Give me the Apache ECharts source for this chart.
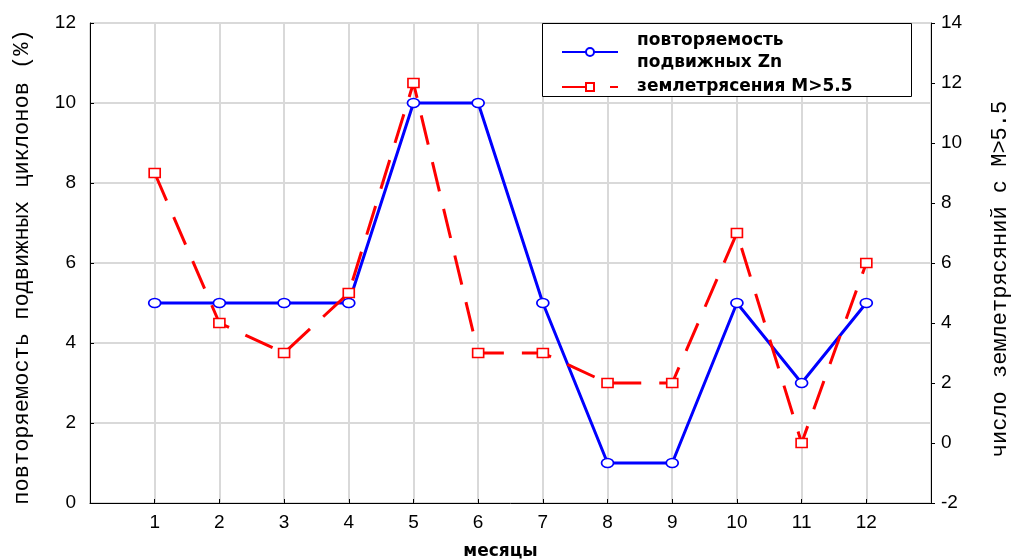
<!DOCTYPE html>
<html>
<head>
<meta charset="utf-8">
<script src="https://cdn.jsdelivr.net/npm/echarts@6/dist/echarts.min.js"></script>
<style>
  html, body { margin: 0; padding: 0; background: #fff; }
  #main-chart-1 { width: 1011px; height: 560px; }
</style>
</head>
<body>
<div id="main-chart-1"></div>
<script>
// Данные графика
const months = [1, 2, 3, 4, 5, 6, 7, 8, 9, 10, 11, 12];
const cyclones = [5, 5, 5, 5, 10, 10, 5, 1, 1, 5, 3, 5];      // левая ось, %
const quakes = [9, 4, 3, 5, 12, 3, 3, 2, 2, 7, 0, 6];         // правая ось, число
const nameCyclones = 'повторяемость\nподвижных Zn';
const nameQuakes = 'землетрясения M>5.5';

const monoFont = 'Liberation Mono';
const tickFont = 'Liberation Sans';

const chart = echarts.init(document.getElementById('main-chart-1'));

chart.setOption({
    backgroundColor: '#fff',
    animation: false,
    grid: {
        left: 90, right: 80, top: 23, bottom: 57,
        containLabel: false, outerBoundsMode: 'none',
        show: true, borderColor: '#000', borderWidth: 1
    },
    graphic: [{
        type: 'rect',
        left: 542, top: 23, z: 10,
        shape: { width: 369, height: 73 },
        style: { fill: '#fff', stroke: '#000', lineWidth: 1 }
    }],
    legend: {
        orient: 'vertical',
        left: 556, top: 25, z: 20,
        itemWidth: 56, itemHeight: 10, itemGap: 2,
        textStyle: {
            fontFamily: 'DejaVu Sans',
            fontWeight: 'bold', fontSize: 17, color: '#000',
            lineHeight: 22, padding: [0, 0, 0, 14]
        },
        data: [nameCyclones, nameQuakes]
    },
    xAxis: {
        type: 'value', min: 0, max: 13, interval: 1,
        name: 'месяцы', nameLocation: 'middle', nameGap: 40,
        nameTextStyle: { fontFamily: 'DejaVu Sans', fontWeight: 'bold', fontSize: 17, color: '#000', padding: [0, 20, 0, 0] },
        axisLine: { lineStyle: { color: '#000' } },
        axisTick: { inside: true, length: 4, lineStyle: { color: '#000' } },
        axisLabel: {
            fontFamily: tickFont, fontSize: 19, color: '#000', margin: 10,
            formatter: v => (v >= 1 && v <= 12) ? String(v) : ''
        },
        splitLine: { show: true, lineStyle: { color: '#d9d9d9', width: 2 } }
    },
    yAxis: [{
        type: 'value', min: 0, max: 12, interval: 2, position: 'left',
        name: 'повторяемость подвижных циклонов (%)', nameLocation: 'middle', nameGap: 57,
        nameTextStyle: { fontFamily: monoFont, fontSize: 22, color: '#000', padding: [0, 8, 0, 0] },
        axisLine: { show: true, lineStyle: { color: '#000' } },
        axisTick: { inside: true, length: 4, lineStyle: { color: '#000' } },
        axisLabel: { fontFamily: tickFont, fontSize: 19, color: '#000', margin: 14 },
        splitLine: { show: true, lineStyle: { color: '#d9d9d9', width: 2 } }
    }, {
        type: 'value', min: -2, max: 14, interval: 2, position: 'right',
        name: 'число землетрясяний с M>5.5', nameLocation: 'middle', nameGap: 58, nameRotate: 90,
        nameTextStyle: { fontFamily: monoFont, fontSize: 22, color: '#000', padding: [0, 32, 0, 0] },
        axisLine: { show: true, lineStyle: { color: '#000' } },
        axisTick: { show: true, length: 4, lineStyle: { color: '#000' } },
        axisLabel: { fontFamily: tickFont, fontSize: 19, color: '#000', margin: 10 },
        splitLine: { show: false }
    }],
    series: [{
        name: nameCyclones,
        type: 'line',
        yAxisIndex: 0,
        data: months.map((m, i) => [m, cyclones[i]]),
        symbol: 'circle', symbolSize: [12, 9],
        lineStyle: { color: '#0000ff', width: 3 },
        itemStyle: { color: '#fff', borderColor: '#0000ff', borderWidth: 1.5 },
        z: 3
    }, {
        name: nameQuakes,
        type: 'line',
        yAxisIndex: 1,
        data: months.map((m, i) => [m, quakes[i]]),
        symbol: 'rect', symbolSize: [11, 9],
        lineStyle: { color: '#ff0000', width: 3, type: [30, 18] },
        itemStyle: { color: '#fff', borderColor: '#ff0000', borderWidth: 1.5 },
        z: 4
    }]
});

window.addEventListener('resize', () => chart.resize());
</script>
</body>
</html>
